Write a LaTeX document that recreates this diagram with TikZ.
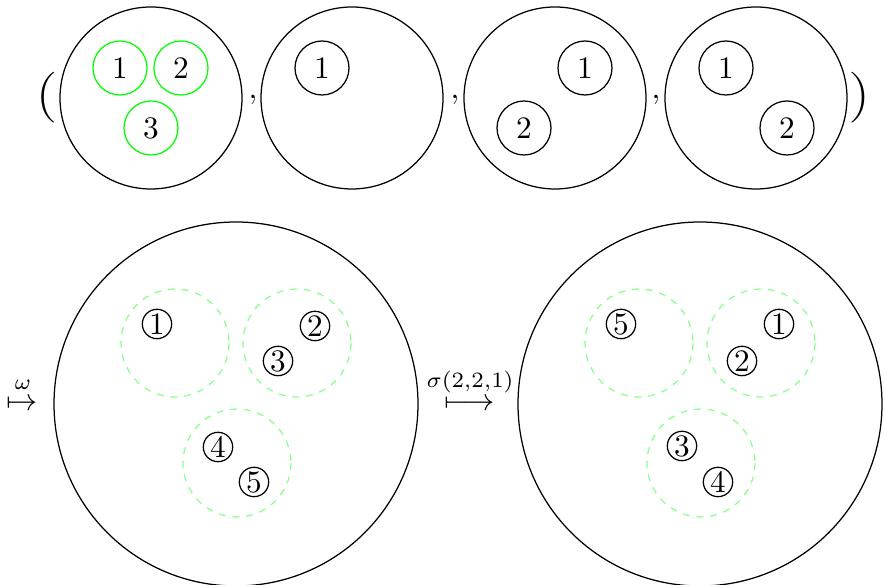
\documentclass[tikz,border=0pt]{standalone}
\usepackage{amsmath}
\begin{document}
\begin{tikzpicture}[x=0.32pt,y=-0.32pt,
  big/.style={draw=black,thin},
  grn/.style={draw=green,thin},
  dgrn/.style={draw=green!45,thin,dash pattern=on 2.2pt off 2.2pt},
  blk/.style={draw=black,thin},
  par/.style={xscale=1.1,yscale=0.9},
  cnum/.style={circle,draw=black,thin,inner sep=0pt,minimum size=9.4pt,font=\normalsize}]
\useasboundingbox (0,0) rectangle (885,585);
% top row
\draw[big] (151,98) circle (91);
\draw[big] (352,98) circle (91);
\draw[big] (555,98) circle (91);
\draw[big] (756,98) circle (91);
\node[par] (lp) at (46,98) {$\Big($};
\node[par] (rp) at (861,98) {$\Big)$};
\node[anchor=base] (c1) at (253,99) {$,$};
\node[anchor=base] (c2) at (455,99) {$,$};
\node[anchor=base] (c3) at (656,99) {$,$};
% disk 1
\draw[grn] (120,68) circle (27); \node (a1) at (120,68) {$1$};
\draw[grn] (181,68) circle (27); \node (a2) at (181,68) {$2$};
\draw[grn] (151,128) circle (27); \node (a3) at (151,128) {$3$};
% disk 2
\draw[blk] (322,68) circle (27); \node (b1) at (322,68) {$1$};
% disk 3
\draw[blk] (585,68) circle (27); \node (d1) at (585,68) {$1$};
\draw[blk] (524,128) circle (27); \node (d2) at (524,128) {$2$};
% disk 4
\draw[blk] (726,68) circle (27); \node (e1) at (726,68) {$1$};
\draw[blk] (787,128) circle (27); \node (e2) at (787,128) {$2$};
% bottom row
\node[inner sep=0pt] (m1) at (22,405) {$\mapsto$};
\node[inner sep=0pt] (w) at (23,385) {$\scriptstyle\omega$};
\node[inner sep=0pt] (m2) at (470,405) {$\longmapsto$};
\node[inner sep=0pt] (s) at (470,382) {$\scriptstyle\sigma(2,2,1)$};
\draw[big] (236,404) circle (182);
\draw[big] (700,404) circle (182);
\draw[dgrn] (175,343) circle (54);
\draw[dgrn] (297,343) circle (54);
\draw[dgrn] (237,463) circle (54);
\draw[dgrn] (639,343) circle (54);
\draw[dgrn] (761,343) circle (54);
\draw[dgrn] (701,463) circle (54);
\node[cnum] (l1) at (157,324) {1};
\node[cnum] (l2) at (315,326) {2};
\node[cnum] (l3) at (278,361) {3};
\node[cnum] (l4) at (218,447) {4};
\node[cnum] (l5) at (254,482) {5};
\node[cnum] (r5) at (621,324) {5};
\node[cnum] (r1) at (779,324) {1};
\node[cnum] (r2) at (742,361) {2};
\node[cnum] (r3) at (682,446) {3};
\node[cnum] (r4) at (718,482) {4};
\end{tikzpicture}
\end{document}
